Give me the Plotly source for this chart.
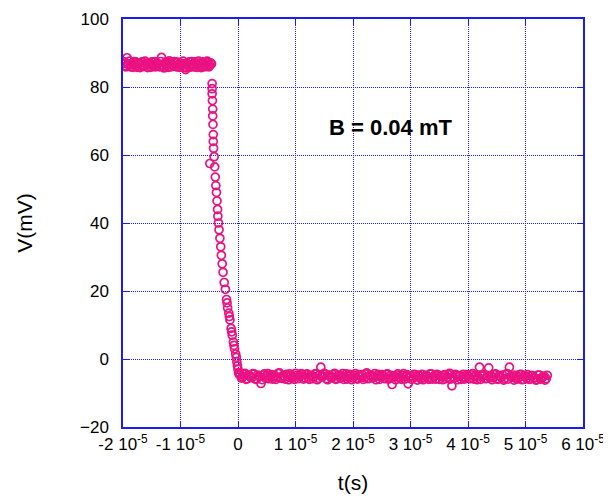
import plotly.graph_objects as go

# ---- data (time in microseconds, voltage in mV) ----
high_t_us = [-19.9, -19.6, -19.3, -19.0, -18.7, -18.4, -18.1, -17.8, -17.5, -17.2,
             -16.9, -16.6, -16.3, -16.0, -15.7, -15.4, -15.1, -14.8, -14.5, -14.2,
             -13.9, -13.6, -13.3, -13.0, -12.7, -12.4, -12.1, -11.8, -11.5, -11.2,
             -10.9, -10.6, -10.3, -10.0, -9.7, -9.4, -9.1, -8.8, -8.5, -8.2,
             -7.9, -7.6, -7.3, -7.0, -6.7, -6.4, -6.1, -5.8, -5.5, -5.2,
             -4.9, -4.6]
high_v = [86.9, 86.2, 88.6, 86.7, 85.9, 87.1, 86.4, 87.3, 85.8, 86.8,
          86.5, 87.4, 86.1, 86.9, 85.7, 87.2, 86.6, 86.0, 87.5, 86.3,
          86.8, 85.9, 88.7, 86.5, 87.0, 86.2, 85.8, 87.3, 86.6, 86.1,
          87.2, 85.9, 86.7, 87.0, 86.3, 85.8, 85.1, 86.9, 87.4, 86.2,
          86.6, 85.9, 87.1, 86.4, 86.8, 85.7, 87.3, 86.5, 86.0, 87.2,
          86.4, 86.8]

high2_t_us = [-19.75, -19.45, -19.15, -18.85, -18.55, -18.25, -17.95, -17.65, -17.35, -17.05,
              -16.75, -16.45, -16.15, -15.85, -15.55, -15.25, -14.95, -14.65, -14.35, -14.05,
              -13.75, -13.45, -13.15, -12.85, -12.55, -12.25, -11.95, -11.65, -11.35, -11.05,
              -10.75, -10.45, -10.15, -9.85, -9.55, -9.25, -8.95, -8.65, -8.35, -8.05,
              -7.75, -7.45, -7.15, -6.85, -6.55, -6.25, -5.95, -5.65, -5.35, -5.05,
              -4.75]
high2_v = [87.4, 85.9, 86.6, 87.6, 86.1, 85.8, 87.5, 86.2, 87.0, 85.7,
           87.3, 86.0, 87.6, 86.4, 87.0, 85.8, 87.4, 86.5, 85.9, 87.1,
           86.2, 87.5, 86.0, 85.6, 87.4, 86.9, 87.7, 85.9, 86.4, 87.5,
           86.0, 87.3, 85.8, 86.5, 87.6, 86.9, 85.6, 86.2, 85.8, 87.5,
           86.0, 87.4, 85.8, 87.6, 86.1, 87.3, 85.9, 86.3, 87.6, 85.9,
           87.1]

drop_t_us = [-4.5, -4.5, -4.5, -4.45, -4.4, -4.4, -4.35, -4.3, -4.3, -4.25,
             -4.15, -4.9, -4.05, -3.95, -3.85, -3.75, -3.65, -3.55, -3.5, -3.4,
             -3.3, -3.15, -3.0, -2.9, -2.75, -2.6, -2.4, -2.2, -2.0, -1.9,
             -1.8, -1.6, -1.5, -1.4, -1.2, -1.1, -1.0, -0.8, -0.7, -0.6,
             -0.4, -0.3, -0.2, -0.1, 0.0, 0.1, 0.2]
drop_v = [81.0, 79.5, 78.0, 76.0, 73.5, 71.5, 69.0, 66.0, 64.0, 62.0,
          59.5, 57.5, 56.5, 53.5, 51.0, 49.0, 46.5, 44.0, 42.0, 40.0,
          38.0, 35.5, 33.0, 30.5, 28.0, 25.5, 22.5, 20.5, 17.5, 16.5,
          15.0, 13.5, 12.5, 11.5, 9.0, 8.0, 7.0, 5.0, 4.0, 3.0,
          1.5, 0.5, -0.8, -2.0, -3.0, -4.0, -4.5]

low_t_us = [0.4, 0.8, 1.2, 1.6, 2.0, 2.4, 2.8, 3.2, 3.6, 4.0,
            4.4, 4.8, 5.2, 5.6, 6.0, 6.4, 6.8, 7.2, 7.6, 8.0,
            8.4, 8.8, 9.2, 9.6, 10.0, 10.4, 10.8, 11.2, 11.6, 12.0,
            12.4, 12.8, 13.2, 13.6, 14.0, 14.4, 14.8, 15.2, 15.6, 16.0,
            16.4, 16.8, 17.2, 17.6, 18.0, 18.4, 18.8, 19.2, 19.6, 20.0,
            20.4, 20.8, 21.2, 21.6, 22.0, 22.4, 22.8, 23.2, 23.6, 24.0,
            24.4, 24.8, 25.2, 25.6, 26.0, 26.4, 26.8, 27.2, 27.6, 28.0,
            28.4, 28.8, 29.2, 29.6, 30.0, 30.4, 30.8, 31.2, 31.6, 32.0,
            32.4, 32.8, 33.2, 33.6, 34.0, 34.4, 34.8, 35.2, 35.6, 36.0,
            36.4, 36.8, 37.2, 37.6, 38.0, 38.4, 38.8, 39.2, 39.6, 40.0,
            40.4, 40.8, 41.2, 41.6, 42.0, 42.4, 42.8, 43.2, 43.6, 44.0,
            44.4, 44.8, 45.2, 45.6, 46.0, 46.4, 46.8, 47.2, 47.6, 48.0,
            48.4, 48.8, 49.2, 49.6, 50.0, 50.4, 50.8, 51.2, 51.6, 52.0,
            52.4, 52.8, 53.2, 53.6]
low_v = [-4.6, -5.3, -4.2, -5.8, -4.9, -5.5, -4.4, -6.0, -5.1, -7.2,
         -4.7, -5.6, -4.3, -5.2, -5.9, -4.8, -5.4, -4.1, -5.7, -5.0,
         -4.5, -6.1, -4.9, -5.3, -4.2, -5.8, -5.0, -4.6, -5.5, -4.4,
         -6.0, -4.8, -5.2, -4.3, -5.7, -2.4, -5.1, -4.5, -6.1, -4.9,
         -5.4, -4.2, -5.8, -4.7, -5.3, -6.0, -4.4, -5.1, -4.8, -5.6,
         -4.3, -5.9, -5.0, -4.6, -5.5, -4.1, -5.7, -4.9, -5.2, -6.1,
         -4.5, -5.3, -4.8, -5.8, -4.4, -5.6, -7.5, -5.0, -4.7, -5.4,
         -6.0, -4.3, -5.2, -7.3, -4.9, -5.7, -4.6, -6.2, -5.1, -4.5,
         -5.5, -4.8, -6.0, -4.4, -5.3, -5.9, -4.7, -5.0, -6.1, -4.6,
         -5.4, -4.2, -7.9, -5.6, -4.8, -5.1, -6.0, -4.5, -5.5, -4.9,
         -5.8, -4.3, -5.2, -6.1, -2.4, -5.0, -4.6, -5.7, -2.6, -4.9,
         -5.5, -4.4, -6.0, -5.1, -4.7, -5.8, -4.3, -2.4, -5.3, -6.2,
         -4.8, -5.4, -4.5, -6.0, -5.2, -4.6, -5.9, -4.9, -5.5, -6.1,
         -4.7, -5.6, -5.0, -5.8]

low2_t_us = [0.6, 1.0, 1.4, 1.8, 2.2, 2.6, 3.0, 3.4, 3.8, 4.2,
             4.6, 5.0, 5.4, 5.8, 6.2, 6.6, 7.0, 7.4, 7.8, 8.2,
             8.6, 9.0, 9.4, 9.8, 10.2, 10.6, 11.0, 11.4, 11.8, 12.2,
             12.6, 13.0, 13.4, 13.8, 14.2, 14.6, 15.0, 15.4, 15.8, 16.2,
             16.6, 17.0, 17.4, 17.8, 18.2, 18.6, 19.0, 19.4, 19.8, 20.2,
             20.6, 21.0, 21.4, 21.8, 22.2, 22.6, 23.0, 23.4, 23.8, 24.2,
             24.6, 25.0, 25.4, 25.8, 26.2, 26.6, 27.0, 27.4, 27.8, 28.2,
             28.6, 29.0, 29.4, 29.8, 30.2, 30.6, 31.0, 31.4, 31.8, 32.2,
             32.6, 33.0, 33.4, 33.8, 34.2, 34.6, 35.0, 35.4, 35.8, 36.2,
             36.6, 37.0, 37.4, 37.8, 38.2, 38.6, 39.0, 39.4, 39.8, 40.2,
             40.6, 41.0, 41.4, 41.8, 42.2, 42.6, 43.0, 43.4, 43.8, 44.2,
             44.6, 45.0, 45.4, 45.8, 46.2, 46.6, 47.0, 47.4, 47.8, 48.2,
             48.6, 49.0, 49.4, 49.8, 50.2, 50.6, 51.0, 51.4, 51.8, 52.2,
             52.6, 53.0, 53.4, 53.8]
low2_v = [-5.6, -4.5, -6.0, -4.8, -5.4, -4.3, -5.9, -4.7, -5.2, -6.1,
          -4.4, -5.0, -5.8, -4.6, -5.3, -6.0, -4.2, -5.5, -4.9, -5.9,
          -5.2, -4.4, -5.7, -6.0, -4.8, -5.1, -4.3, -5.9, -4.6, -5.6,
          -4.9, -5.8, -4.4, -6.1, -4.6, -5.3, -4.2, -5.8, -4.7, -5.5,
          -4.6, -6.0, -4.9, -5.6, -4.3, -5.2, -5.9, -4.5, -6.1, -4.8,
          -5.7, -4.6, -5.3, -6.0, -4.4, -5.8, -4.7, -5.5, -4.3, -5.0,
          -6.0, -4.6, -5.7, -4.5, -5.9, -4.8, -5.3, -6.1, -4.4, -5.6,
          -4.8, -5.9, -4.6, -5.4, -6.0, -4.5, -5.2, -4.7, -5.8, -6.1,
          -4.9, -5.6, -4.4, -5.9, -4.8, -4.5, -6.0, -5.3, -4.7, -5.8,
          -4.6, -5.9, -5.2, -4.5, -6.1, -4.9, -5.4, -5.9, -4.6, -5.7,
          -4.7, -5.9, -4.8, -5.3, -6.0, -4.6, -5.8, -4.9, -5.5, -6.1,
          -4.6, -5.8, -4.9, -5.4, -6.2, -4.5, -5.9, -5.1, -4.7, -5.6,
          -5.9, -4.6, -6.1, -4.8, -5.7, -6.0, -4.9, -5.6, -6.2, -4.7,
          -5.9, -5.3, -6.2, -4.8]

x_tick_vals = [-2e-5, -1e-5, 0, 1e-5, 2e-5, 3e-5, 4e-5, 5e-5, 6e-5]
x_tick_text = ["-2 10<sup>-5</sup>", "-1 10<sup>-5</sup>", "0",
               "1 10<sup>-5</sup>", "2 10<sup>-5</sup>", "3 10<sup>-5</sup>",
               "4 10<sup>-5</sup>", "5 10<sup>-5</sup>", "6 10<sup>-5</sup>"]
y_tick_vals = [-20, 0, 20, 40, 60, 80, 100]

label_text = "B = 0.04 mT"
label_t = 2.66e-5
label_v = 68

# ---- assemble ----
t_us_all = high_t_us + high2_t_us + drop_t_us + low_t_us + low2_t_us
t_all = [v * 1e-6 for v in t_us_all]
v_all = high_v + high2_v + drop_v + low_v + low2_v

FONT = "Liberation Sans, Arial, sans-serif"
PINK = "#EA1282"
BLUE = "#1a1aff"
GRID = "#1c1cff"

fig = go.Figure()
fig.add_trace(go.Scatter(
    x=t_all, y=v_all, mode="markers",
    marker=dict(symbol="circle-open", size=8, color=PINK,
                line=dict(color=PINK, width=1.7)),
    showlegend=False, hoverinfo="x+y",
))

fig.add_annotation(x=label_t, y=label_v, text=label_text, showarrow=False,
                   font=dict(family=FONT, size=22, color="black", weight="bold"),
                   xanchor="center", yanchor="middle")

axis_common = dict(
    showline=True, linecolor=BLUE, linewidth=1.5, mirror="ticks",
    ticks="inside", ticklen=6, tickcolor=BLUE, tickwidth=1.2,
    showgrid=True, gridcolor=GRID, gridwidth=1, griddash="1px,1px",
    zeroline=False, tickfont=dict(family=FONT, size=17, color="black"),
)

fig.update_xaxes(range=[-2e-5, 6e-5], tickmode="array", tickvals=x_tick_vals,
                 ticktext=x_tick_text, ticklabelstandoff=1,
                 title=dict(text="t(s)", font=dict(family=FONT, size=21, color="black"),
                            standoff=22),
                 **axis_common)
fig.update_yaxes(range=[-20, 100], tickmode="array", tickvals=y_tick_vals,
                 ticklabelstandoff=9,
                 title=dict(text="V(mV)", font=dict(family=FONT, size=21, color="black"),
                            standoff=42),
                 **axis_common)

# page body has an 8px default margin, so margins are offset to place the plot
fig.update_layout(
    width=611, height=503,
    margin=dict(l=115, r=36, t=11, b=84, autoexpand=False),
    paper_bgcolor="white", plot_bgcolor="white",
    font=dict(family=FONT),
)

fig.write_html("out.html")
